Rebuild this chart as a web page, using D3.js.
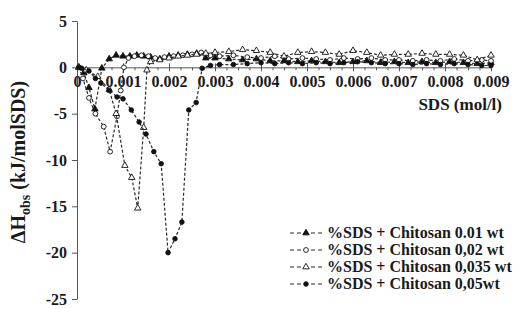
<!DOCTYPE html>
<html>
<head>
<meta charset="utf-8">
<script src="https://cdn.jsdelivr.net/npm/d3@7"></script>
<style>
  body { margin: 0; background: #fff; }
</style>
</head>
<body>
<svg id="chart"></svg>
<script>
// Data: [SDS mol/l, dH kJ/mol SDS]
const chitosan001 = [
  [0.00004, 0], [0.00015, -0.6], [0.00026, -2.2], [0.00039, -4.5], [0.00054, -0.1],
  [0.0007, 0.9], [0.00085, 1.3], [0.001, 1.2], [0.00115, 1.2], [0.0013, 1.3],
  [0.00145, 1.2], [0.0016, 1.1], [0.0018, 0.9], [0.002, 1.2], [0.0022, 1.3],
  [0.0024, 1.4], [0.0026, 1.5], [0.0028, 1.0], [0.003, 1.0], [0.0033, 0.9],
  [0.0036, 0.8], [0.0039, 0.9], [0.0042, 0.7], [0.0045, 0.7], [0.0048, 0.6],
  [0.0051, 0.7], [0.0054, 0.6], [0.0057, 0.5], [0.006, 0.6], [0.0063, 0.7],
  [0.0066, 0.5], [0.0069, 0.6], [0.0072, 0.5], [0.0075, 0.6], [0.0078, 0.5],
  [0.0081, 0.6], [0.0084, 0.5], [0.0087, 0.4], [0.009, 0.5]
];
const chitosan002 = [
  [0.00004, 0], [0.00013, -1.2], [0.00026, -3.3], [0.0004, -5.0], [0.00058, -6.4],
  [0.00072, -9.1], [0.00087, -5.3], [0.00095, -2.5], [0.00102, 0], [0.00112, 1.0],
  [0.00125, 1.2], [0.0014, 1.3], [0.00155, 1.2], [0.0017, 1.0], [0.0019, 1.1],
  [0.0021, 1.2], [0.0023, 1.3], [0.0025, 1.4], [0.0027, 1.6], [0.0029, 1.3],
  [0.0031, 1.2], [0.0034, 1.3], [0.0037, 1.1], [0.004, 1.0], [0.0043, 1.2],
  [0.0046, 0.9], [0.0049, 1.0], [0.0052, 0.9], [0.0055, 0.8], [0.0058, 1.0],
  [0.0061, 0.9], [0.0064, 1.0], [0.0067, 0.8], [0.007, 0.8], [0.0073, 0.7],
  [0.0076, 0.8], [0.0079, 0.7], [0.0082, 0.9], [0.0085, 0.7], [0.0088, 0.8], [0.009, 0.7]
];
const chitosan0035 = [
  [0.00004, 0], [0.0002, -0.3], [0.00045, -1.0], [0.0007, -2.4], [0.00085, -5.0],
  [0.00104, -10.6], [0.00119, -11.9], [0.00132, -15.2], [0.00145, -6.5], [0.00152, -0.3],
  [0.0016, 0.6], [0.0018, 0.8], [0.002, 1.0], [0.0022, 1.2], [0.0024, 1.3],
  [0.0026, 1.4], [0.0028, 1.5], [0.003, 1.6], [0.0033, 1.7], [0.0036, 1.9],
  [0.0039, 1.8], [0.0042, 1.6], [0.0045, 1.2], [0.0048, 1.6], [0.0051, 1.7],
  [0.0054, 1.6], [0.0057, 1.4], [0.006, 1.8], [0.0063, 1.6], [0.0066, 1.3],
  [0.0069, 1.4], [0.0072, 1.4], [0.0075, 1.5], [0.0078, 1.4], [0.0081, 1.4],
  [0.0084, 1.3], [0.0087, 0.8], [0.009, 1.3]
];
const chitosan005 = [
  [0.00004, 0], [0.0001, -0.1], [0.00026, -0.4], [0.0004, -1.2], [0.00052, -1.7],
  [0.0007, -2.5], [0.00087, -3.2], [0.001, -3.4], [0.00118, -4.6], [0.00135, -5.9],
  [0.0015, -7.2], [0.00167, -9.1], [0.00183, -10.4], [0.00198, -20.0], [0.00213, -18.5],
  [0.00228, -16.7], [0.00243, -4.6], [0.00259, -3.8], [0.00272, -0.1], [0.0029, 0.2],
  [0.0031, 0.3], [0.0034, 0.3], [0.0037, 0.4], [0.004, 0.5], [0.0043, 0.4],
  [0.0046, 0.5], [0.0049, 0.4], [0.0052, 0.5], [0.0055, 0.4], [0.0058, 0.5],
  [0.0061, 0.6], [0.0064, 0.5], [0.0067, 0.4], [0.007, 0.4], [0.0073, 0.3],
  [0.0076, 0.4], [0.0079, 0.3], [0.0082, 0.4], [0.0085, 0.3], [0.0088, 0.2], [0.009, 0.2]
];

const seriesNames = [
  "%SDS + Chitosan 0.01 wt",
  "%SDS + Chitosan 0,02 wt",
  "%SDS + Chitosan 0,035 wt",
  "%SDS + Chitosan 0,05wt"
];
const seriesMarkers = ["triangleFilled", "circleOpen", "triangleOpen", "circleFilled"];

const xTicks = [0, 0.001, 0.002, 0.003, 0.004, 0.005, 0.006, 0.007, 0.008, 0.009];
const xTickLabels = ["0", "0.001", "0.002", "0.003", "0.004", "0.005", "0.006", "0.007", "0.008", "0.009"];
const yTicks = [5, 0, -5, -10, -15, -20, -25];
const yTickLabels = ["5", "0", "-5", "-10", "-15", "-20", "-25"];

// Layout
const width = 524;
const height = 309;
const serif = "'Liberation Serif', 'Times New Roman', Times, serif";

const svg = d3.select("#chart").attr("width", width).attr("height", height);

const x = d3.scaleLinear().domain([0, 0.009]).range([77, 491]);
const y = d3.scaleLinear().domain([-25, 5]).range([299, 21]);

const axisColor = "#555";

// Y axis
svg.append("g")
  .attr("transform", `translate(${x(0)},0)`)
  .call(d3.axisLeft(y).tickValues(yTicks).tickFormat((d, i) => yTickLabels[i])
    .tickSizeInner(5).tickSizeOuter(0).tickPadding(5));

// X axis at y = 0, minor ticks first
const minorTicks = d3.range(0, 0.00901, 0.00025).filter(v => Math.abs(v * 1000 - Math.round(v * 1000)) > 1e-6);
svg.append("g")
  .attr("transform", `translate(0,${y(0)})`)
  .call(d3.axisBottom(x).tickValues(minorTicks).tickFormat("").tickSizeInner(3).tickSizeOuter(0))
  .call(g => g.select(".domain").remove());

const xAxis = svg.append("g")
  .attr("transform", `translate(0,${y(0)})`)
  .call(d3.axisBottom(x).tickValues(xTicks).tickFormat((d, i) => xTickLabels[i])
    .tickSizeInner(4).tickSizeOuter(0).tickPadding(4));
xAxis.selectAll(".tick line").attr("y1", -4);

svg.selectAll(".domain, .tick line").attr("stroke", axisColor);
svg.selectAll(".tick text")
  .attr("fill", "#1a1a1a")
  .style("font-family", serif)
  .style("font-weight", "bold")
  .style("font-size", "16px");

// Axis titles
svg.append("text")
  .attr("x", 502).attr("y", 110)
  .attr("text-anchor", "end")
  .style("font-family", serif).style("font-weight", "bold")
  .style("font-size", "17px").attr("fill", "#1a1a1a")
  .text("SDS (mol/l)");

const yTitle = svg.append("text")
  .attr("transform", "translate(25,162) rotate(-90)")
  .attr("text-anchor", "middle")
  .style("font-family", serif).style("font-weight", "bold")
  .style("font-size", "20px").attr("fill", "#1a1a1a");
yTitle.append("tspan").text("\u0394H");
yTitle.append("tspan").attr("dy", 5).style("font-size", "14px").text("obs");
yTitle.append("tspan").attr("dy", -5).text(" (kJ/molSDS)");

// Lines and markers
const allSeries = [chitosan001, chitosan002, chitosan0035, chitosan005];
const line = d3.line().x(d => x(d[0])).y(d => y(d[1]));
const tri = d3.symbol().type(d3.symbolTriangle).size(18);

function drawMarker(g, type) {
  if (type.startsWith("triangle")) {
    g.append("path").attr("d", tri())
      .attr("fill", type === "triangleFilled" ? "#111" : "#fff")
      .attr("stroke", "#111").attr("stroke-width", 0.9);
  } else {
    g.append("circle").attr("r", type === "circleFilled" ? 2.3 : 2.4)
      .attr("fill", type === "circleFilled" ? "#111" : "#fff")
      .attr("stroke", "#111").attr("stroke-width", 0.9);
  }
}

allSeries.forEach((data, i) => {
  svg.append("path")
    .datum(data)
    .attr("d", line)
    .attr("fill", "none")
    .attr("stroke", "#2a2a2a")
    .attr("stroke-width", 1.2)
    .attr("stroke-dasharray", "3,2");
  svg.append("g").selectAll("g")
    .data(data)
    .enter().append("g")
    .attr("transform", d => `translate(${x(d[0])},${y(d[1])})`)
    .each(function () { drawMarker(d3.select(this), seriesMarkers[i]); });
});

// Legend
const legendY = [233, 250, 267, 284];
seriesNames.forEach((name, i) => {
  const g = svg.append("g").attr("transform", `translate(290,${legendY[i]})`);
  g.append("line")
    .attr("x1", 0).attr("x2", 34).attr("y1", 0).attr("y2", 0)
    .attr("stroke", "#2a2a2a").attr("stroke-width", 1.2).attr("stroke-dasharray", "4,3");
  const m = g.append("g").attr("transform", "translate(16,0)");
  drawMarker(m, seriesMarkers[i]);
  g.append("text")
    .attr("x", 37).attr("y", 5)
    .style("font-family", serif).style("font-weight", "bold")
    .style("font-size", "16px").attr("fill", "#1a1a1a")
    .text(name);
});
</script>
</body>
</html>
